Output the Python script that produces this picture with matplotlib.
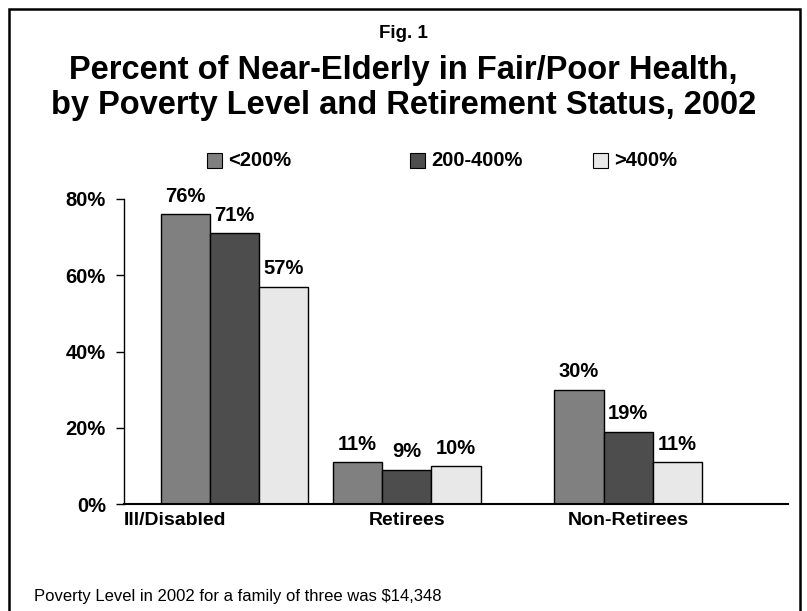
import matplotlib
matplotlib.use("Agg")
from matplotlib import pyplot as plt
from matplotlib.patches import Rectangle

plt.rcParams['font.family'] = ['Liberation Sans', 'DejaVu Sans']

categories = ['Ill/Disabled', 'Retirees', 'Non-Retirees']
series = ['<200%', '200-400%', '>400%']
low = [76, 11, 30]
mid = [71, 9, 19]
high = [57, 10, 11]
yticks = [0, 20, 40, 60, 80]
colors = ['#808080', '#4d4d4d', '#e8e8e8']

W, H = 807, 611
# group start positions along the axis, in bar widths (layout only)
group_start = [0.75, 4.25, 8.75]
label_x = [0, 5.75, 10.25]

fig = plt.figure(figsize=(W / 100, H / 100), dpi=100)


def fx(px):
    return px / W


def fy(py):
    return 1 - py / H


# outer frame
fig.patches.append(Rectangle((fx(9), fy(640)), fx(800) - fx(9), fy(9) - fy(640),
                             transform=fig.transFigure, fill=False,
                             edgecolor='black', linewidth=1.8))

ax = fig.add_axes([fx(124), fy(504), fx(788) - fx(124), fy(199) - fy(504)])

for i, (name, vals) in enumerate(zip(series, [low, mid, high])):
    xs = [g + i + 0.5 for g in group_start]
    bars = ax.bar(xs, vals, width=1.0, color=colors[i], edgecolor='black',
                  linewidth=1.0, label=name)
    for b, v in zip(bars, vals):
        ax.annotate(f'{v}%', (b.get_x() + b.get_width() / 2, v),
                    xytext=(0, 6), textcoords='offset points',
                    ha='center', va='bottom', fontsize=14.5, fontweight='bold')

ax.set_xlim(0, 13.5)
ax.set_ylim(0, 80)
ax.set_yticks(yticks)
ax.set_yticklabels([f'{t}%' for t in yticks], fontsize=14.5, fontweight='bold')
ax.tick_params(axis='y', length=6, width=1, pad=7)
ax.set_xticks([])
for i, c in enumerate(categories):
    ax.text(label_x[i], -2.0, c, ha='left' if i == 0 else 'center',
            va='top', fontsize=14, fontweight='bold')
ax.spines['top'].set_visible(False)
ax.spines['right'].set_visible(False)
ax.spines['left'].set_linewidth(1)
ax.spines['bottom'].set_linewidth(1.5)

# legend
leg_x = [207, 410, 593]
for x, name, col in zip(leg_x, series, colors):
    fig.patches.append(Rectangle((fx(x), fy(168)), fx(15), 15 / H,
                                 transform=fig.transFigure, facecolor=col,
                                 edgecolor='black', linewidth=0.8))
    fig.text(fx(x + 21), fy(161), name, ha='left', va='center',
             fontsize=14.5, fontweight='bold')

fig.text(0.5, fy(33), 'Fig. 1', ha='center', va='center',
         fontsize=13.5, fontweight='bold')
fig.text(0.5, fy(88), 'Percent of Near-Elderly in Fair/Poor Health,\n'
         'by Poverty Level and Retirement Status, 2002',
         ha='center', va='center', fontsize=23.5, fontweight='bold',
         linespacing=1.15)
fig.text(fx(34), fy(596), 'Poverty Level in 2002 for a family of three was $14,348',
         ha='left', va='center', fontsize=12)

fig.savefig('out.png', dpi=100)
